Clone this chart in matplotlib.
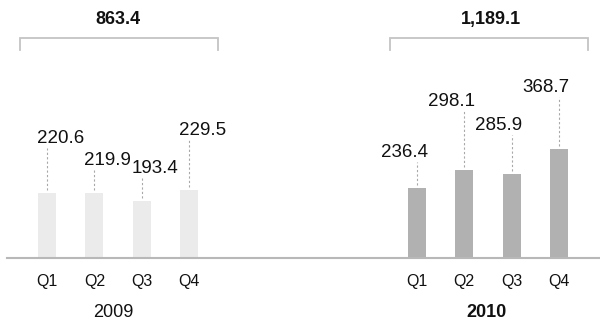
import matplotlib
matplotlib.use("Agg")
import matplotlib.pyplot as plt

# data
years = ["2009", "2010"]
quarters = ["Q1", "Q2", "Q3", "Q4"]
values_2009 = [220.6, 219.9, 193.4, 229.5]
values_2010 = [236.4, 298.1, 285.9, 368.7]
totals = ["863.4", "1,189.1"]

# layout (pixels at dpi 100)
label_lift_2009 = [50, 28, 28, 55]   # gap between bar top and label baseline
label_lift_2010 = [31, 64, 44, 57]
group_offset = 7.82                  # where the 2010 group starts, in bar steps
bar_w = 0.38
colors = ["#ebebeb", "#b1b1b1"]

plt.rcParams["font.family"] = ["Liberation Sans", "DejaVu Sans"]

fig = plt.figure(figsize=(6, 3.22), dpi=100)
ax = fig.add_axes([7 / 600, 64 / 322, 593 / 600, 258 / 322])
ymax = 873.0
ax.set_xlim(-0.846, 11.69)
ax.set_ylim(0, ymax)
for s in ["top", "right", "left"]:
    ax.spines[s].set_visible(False)
ax.spines["bottom"].set_color("#b8b8b8")
ax.spines["bottom"].set_linewidth(1.5)
ax.set_xticks([])
ax.set_yticks([])

px = ymax / 258.0   # data units per pixel, vertically
xpx = 1 / 47.3      # data units per pixel, horizontally

groups = [(values_2009, label_lift_2009, 0.0), (values_2010, label_lift_2010, group_offset)]
for g, (vals, lifts, off) in enumerate(groups):
    xs = [off + i for i in range(len(vals))]
    ax.bar(xs, vals, width=bar_w, color=colors[g], zorder=1)
    for x, v, lift, q in zip(xs, vals, lifts, quarters):
        # value label, left-aligned for 2009, right-aligned for 2010
        if g == 0:
            tx, ha = x - bar_w / 2 - 1 * xpx, "left"
        else:
            tx, ha = x + bar_w / 2 + 2 * xpx, "right"
        ax.text(tx, v + lift * px, f"{v:.1f}", ha=ha, va="baseline",
                fontsize=13.5, color="#111111")
        ax.plot([x, x], [v + 3 * px, v + (lift - 5) * px], color="#a8a8a8",
                lw=0.8, ls=(0, (2, 2)), clip_on=False)
        ax.annotate(q, (x, 0), xytext=(0, -17), textcoords="offset points",
                    ha="center", va="center", fontsize=11.5, color="#111111")

    # bracket with total
    left = off - bar_w / 2 - 18 * xpx
    right = off + 3 + bar_w / 2 + 20 * xpx
    top = (258 - 38) * px
    foot = (258 - 50) * px
    ax.plot([left, left, right, right], [foot, top, top, foot], color="#c4c4c4",
            lw=1.3, clip_on=False, solid_joinstyle="miter")
    mid = off + 1.5
    ax.text(mid + (0 if g == 0 else 3 * xpx), (258 - 19.5) * px, totals[g],
            ha="center", va="center", fontsize=13, fontweight="bold", color="#111111")
    ax.annotate(years[g], (mid - (5 if g == 0 else 1) * xpx, 0), xytext=(0, -39),
                textcoords="offset points", ha="center", va="center", fontsize=13,
                fontweight="normal" if g == 0 else "bold", color="#111111")

fig.savefig("out.png", dpi=100)
